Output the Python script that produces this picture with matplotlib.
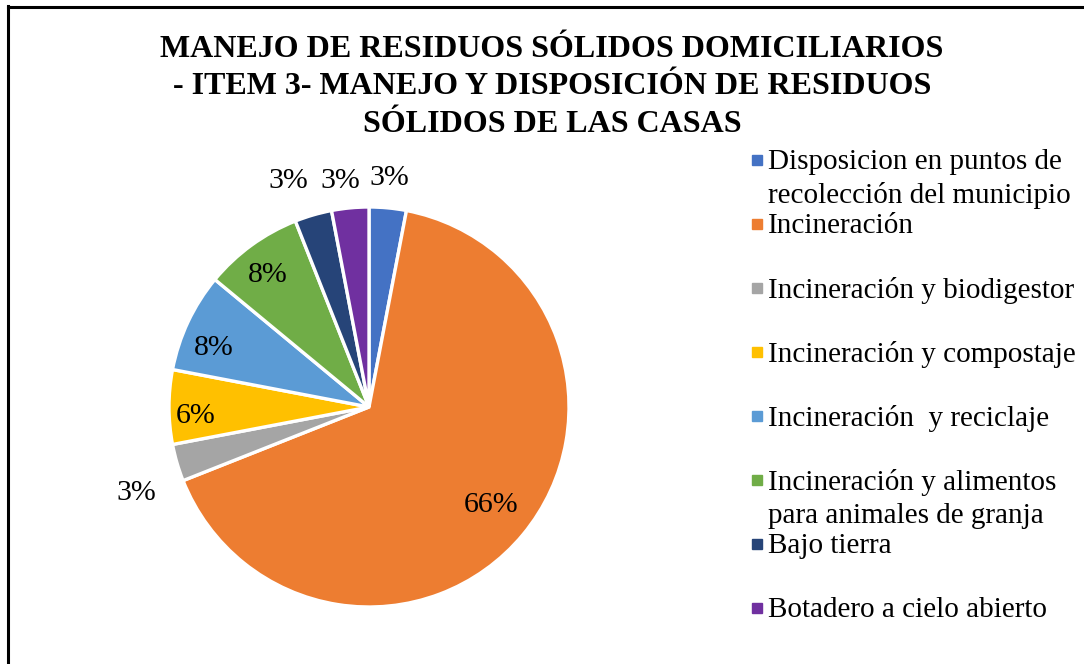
import matplotlib
matplotlib.use('Agg')
import matplotlib.pyplot as plt
from matplotlib.patches import Rectangle
from matplotlib.lines import Line2D
import numpy as np

# data
categories = ['Disposicion en puntos de\nrecolección del municipio',
              'Incineración',
              'Incineración y biodigestor',
              'Incineración y compostaje',
              'Incineración  y reciclaje',
              'Incineración y alimentos\npara animales de granja',
              'Bajo tierra',
              'Botadero a cielo abierto']
percents = [3, 66, 3, 6, 8, 8, 3, 3]
colors = ['#4472C4', '#ED7D31', '#A5A5A5', '#FFC000',
          '#5B9BD5', '#70AD47', '#264478', '#7030A0']
title = ('MANEJO DE RESIDUOS SÓLIDOS DOMICILIARIOS\n'
         '- ITEM 3- MANEJO Y DISPOSICIÓN DE RESIDUOS\n'
         'SÓLIDOS DE LAS CASAS')

# label placement (radius, angle nudge in degrees) - style only
label_r = [1.15, 0.78, 1.24, 0.87, 0.83, 0.83, 1.20, 1.14]
label_nudge = [0.4, 0.8, 4.0, 3.0, 4.5, 1.6, 3.5, 1.9]

plt.rcParams['font.family'] = ['Liberation Serif', 'DejaVu Serif']

W, H = 1084, 664
fig = plt.figure(figsize=(W / 100, H / 100), dpi=100)

# pie axes: center at (369, 407) px from top-left, radius 200 px
size = 500
ax = fig.add_axes([(369 - size / 2) / W, (H - 407 - size / 2) / H, size / W, size / H])
wedges, _ = ax.pie(percents, colors=colors, startangle=90, counterclock=False,
                   wedgeprops=dict(edgecolor='white', linewidth=2.4))
ax.set_xlim(-1.25, 1.25)
ax.set_ylim(-1.25, 1.25)
ax.set_aspect('equal')
ax.axis('off')

for w, p, r, nd in zip(wedges, percents, label_r, label_nudge):
    ang = np.deg2rad((w.theta1 + w.theta2) / 2 + nd)
    ax.text(r * np.cos(ang), r * np.sin(ang), f'{p}%', ha='center', va='center',
            fontsize=21.5, color='black')

# title
fig.text(552 / W, 1 - 87 / H, title, ha='center', va='center', fontsize=23,
         fontweight='bold', linespacing=1.37)

# legend drawn as text slots
y0 = 160
step = 64
for i, (lab, c) in enumerate(zip(categories, colors)):
    y = y0 + i * step
    fig.patches.append(Rectangle((752 / W, 1 - (y + 5) / H), 10 / W, 10 / H,
                                 transform=fig.transFigure, color=c))
    fig.text(768 / W, 1 - (y - 11) / H, lab, ha='left', va='top', fontsize=21,
             linespacing=1.33)

# chart border (left and top only visible)
fig.add_artist(Line2D([8 / W, 8 / W], [0, 1 - 6 / H], transform=fig.transFigure,
                      color='black', linewidth=2.2))
fig.add_artist(Line2D([8 / W, 1], [1 - 7 / H, 1 - 7 / H], transform=fig.transFigure,
                      color='black', linewidth=2.2))

fig.savefig('out.png', dpi=100)
